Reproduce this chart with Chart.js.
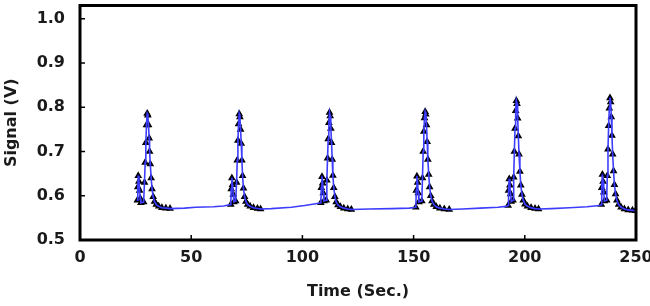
<!DOCTYPE html>
<html lang="en">
<head>
    <meta charset="UTF-8">
    <title>Signal vs Time</title>
    <script src="https://cdn.jsdelivr.net/npm/chart.js"></script>
    <style>
        body {
            margin: 0;
            padding: 0;
            background: #fff;
        }
        .chart-box {
            width: 650px;
            height: 306px;
        }
    </style>
</head>
<body>
    <div class="chart-box">
        <canvas id="signalChart" width="650" height="306"></canvas>
    </div>
    <script>
        // tick labels
        const xTicks = [0, 50, 100, 150, 200, 250];
        const yTicks = [0.5, 0.6, 0.7, 0.8, 0.9, 1.0];

        // peaks (time in s, signal in V)
        const peak1T = [25.8, 26.0, 26.2, 26.5, 26.8, 27.1, 27.4, 28.6, 29.0, 29.3, 29.6, 29.9, 30.2, 30.5, 30.8, 31.1, 31.3, 31.6, 32.0, 32.4, 32.9, 33.5, 34.3, 35.4, 36.8, 38.6, 40.5];
        const peak1V = [0.590, 0.620, 0.645, 0.632, 0.612, 0.594, 0.584, 0.586, 0.630, 0.675, 0.720, 0.760, 0.786, 0.782, 0.760, 0.730, 0.700, 0.672, 0.640, 0.615, 0.598, 0.587, 0.580, 0.576, 0.573, 0.572, 0.571];
        const peak2T = [67.8, 68.0, 68.3, 68.6, 68.9, 69.2, 70.0, 70.4, 70.7, 71.0, 71.3, 71.6, 71.9, 72.2, 72.5, 72.8, 73.1, 73.5, 74.0, 74.6, 75.4, 76.5, 78.0, 79.8, 81.2];
        const peak2V = [0.580, 0.615, 0.640, 0.625, 0.603, 0.586, 0.588, 0.630, 0.680, 0.725, 0.762, 0.785, 0.778, 0.750, 0.718, 0.680, 0.645, 0.617, 0.598, 0.587, 0.580, 0.576, 0.573, 0.571, 0.570];
        const peak3T = [108.3, 108.5, 108.8, 109.1, 109.4, 109.7, 110.7, 111.0, 111.3, 111.6, 111.9, 112.2, 112.5, 112.8, 113.1, 113.4, 113.7, 114.1, 114.6, 115.2, 116.0, 117.1, 118.6, 120.4, 122.0];
        const peak3V = [0.584, 0.618, 0.643, 0.628, 0.606, 0.588, 0.590, 0.635, 0.685, 0.728, 0.765, 0.788, 0.780, 0.752, 0.720, 0.682, 0.646, 0.618, 0.598, 0.586, 0.579, 0.575, 0.572, 0.570, 0.569];
        const peak4T = [151.0, 151.2, 151.5, 151.8, 152.1, 152.4, 153.7, 154.0, 154.3, 154.6, 154.9, 155.2, 155.5, 155.8, 156.1, 156.4, 156.8, 157.2, 157.7, 158.3, 159.1, 160.2, 161.8, 163.8, 166.0];
        const peak4V = [0.574, 0.612, 0.644, 0.630, 0.606, 0.586, 0.588, 0.640, 0.700, 0.745, 0.776, 0.790, 0.784, 0.760, 0.722, 0.682, 0.648, 0.620, 0.600, 0.588, 0.580, 0.575, 0.572, 0.570, 0.569];
        const peak5T = [192.5, 192.7, 193.0, 193.3, 193.6, 193.9, 194.7, 195.0, 195.3, 195.6, 195.9, 196.2, 196.5, 196.8, 197.1, 197.4, 197.8, 198.2, 198.7, 199.3, 200.1, 201.2, 202.8, 204.6, 206.2];
        const peak5V = [0.578, 0.612, 0.638, 0.624, 0.604, 0.587, 0.590, 0.642, 0.700, 0.752, 0.792, 0.815, 0.808, 0.775, 0.735, 0.694, 0.655, 0.624, 0.603, 0.590, 0.581, 0.576, 0.573, 0.571, 0.570];
        const peak6T = [234.4, 234.6, 234.9, 235.2, 235.5, 235.8, 236.8, 237.1, 237.4, 237.7, 238.0, 238.3, 238.6, 238.9, 239.2, 239.5, 239.9, 240.3, 240.8, 241.4, 242.2, 243.3, 244.8, 246.5, 248.4, 249.8];
        const peak6V = [0.580, 0.618, 0.648, 0.632, 0.608, 0.588, 0.590, 0.645, 0.705, 0.758, 0.798, 0.821, 0.812, 0.778, 0.736, 0.694, 0.656, 0.625, 0.604, 0.590, 0.580, 0.574, 0.570, 0.568, 0.567, 0.566];

        // flat stretches between peaks (no markers)
        const gap1T = [47.0, 52.0, 60.0, 64.5];
        const gap1V = [0.572, 0.574, 0.575, 0.577];
        const gap2T = [86.0, 95.0, 101.0, 106.0];
        const gap2V = [0.571, 0.574, 0.578, 0.582];
        const gap3T = [130.0, 140.0, 148.0];
        const gap3V = [0.570, 0.571, 0.572];
        const gap4T = [172.0, 180.0, 188.0, 191.5];
        const gap4V = [0.570, 0.572, 0.574, 0.576];
        const gap5T = [212.0, 220.0, 228.0, 233.5];
        const gap5V = [0.571, 0.573, 0.575, 0.578];

        const pts = (t, v) => t.map((x, i) => ({ x: x, y: v[i] }));

        const peakPts = [].concat(
            pts(peak1T, peak1V), pts(peak2T, peak2V), pts(peak3T, peak3V),
            pts(peak4T, peak4V), pts(peak5T, peak5V), pts(peak6T, peak6V)
        );
        const tracePts = [].concat(
            pts(peak1T, peak1V), pts(gap1T, gap1V),
            pts(peak2T, peak2V), pts(gap2T, gap2V),
            pts(peak3T, peak3V), pts(gap3T, gap3V),
            pts(peak4T, peak4V), pts(gap4T, gap4V),
            pts(peak5T, peak5V), pts(gap5T, gap5V),
            pts(peak6T, peak6V)
        );

        // frame + inward tick marks
        const framePlugin = {
            id: 'frame',
            afterDraw(chart) {
                const { ctx, chartArea: a, scales } = chart;
                ctx.save();
                ctx.strokeStyle = '#000';
                ctx.lineWidth = 1.5;
                scales.y.ticks.forEach(t => {
                    const y = scales.y.getPixelForValue(t.value);
                    ctx.beginPath();
                    ctx.moveTo(a.left, y);
                    ctx.lineTo(a.left + 5, y);
                    ctx.stroke();
                });
                scales.x.ticks.forEach(t => {
                    const x = scales.x.getPixelForValue(t.value);
                    ctx.beginPath();
                    ctx.moveTo(x, a.bottom);
                    ctx.lineTo(x, a.bottom - 5);
                    ctx.stroke();
                });
                ctx.lineWidth = 3;
                ctx.strokeRect(a.left, a.top, a.right - a.left, a.bottom - a.top);
                ctx.restore();
            }
        };

        const tickFont = { family: "'DejaVu Sans', Verdana, sans-serif", size: 16, weight: 'bold' };

        new Chart(document.getElementById('signalChart'), {
            type: 'scatter',
            data: {
                datasets: [
                    {
                        data: tracePts,
                        showLine: true,
                        borderColor: '#3d3dff',
                        borderWidth: 1.6,
                        pointRadius: 0,
                        tension: 0
                    },
                    {
                        data: peakPts,
                        showLine: false,
                        pointStyle: 'triangle',
                        pointRadius: 3,
                        pointBackgroundColor: '#1010c0',
                        pointBorderColor: '#000',
                        pointBorderWidth: 1.5
                    }
                ]
            },
            options: {
                responsive: false,
                animation: false,
                layout: { padding: { top: 3, right: 14, left: 0, bottom: 0 } },
                plugins: {
                    legend: { display: false },
                    tooltip: { enabled: false }
                },
                scales: {
                    x: {
                        type: 'linear',
                        min: 0,
                        max: 250,
                        afterBuildTicks: s => { s.ticks = xTicks.map(v => ({ value: v })); },
                        afterFit: s => {
                            s.height = 66;
                            s.paddingLeft = 0;
                            s.paddingRight = 0;
                        },
                        grid: { display: false, drawTicks: false },
                        border: { display: false },
                        ticks: { font: tickFont, color: '#1a1a1a', padding: 8, maxRotation: 0 },
                        title: {
                            display: true,
                            text: 'Time (Sec.)',
                            font: tickFont,
                            color: '#1a1a1a',
                            padding: { top: 0, bottom: 5 }
                        }
                    },
                    y: {
                        type: 'linear',
                        min: 0.5,
                        max: 1.03,
                        afterBuildTicks: s => { s.ticks = yTicks.map(v => ({ value: v })); },
                        afterFit: s => {
                            s.width = 80;
                            s.paddingTop = 0;
                            s.paddingBottom = 0;
                        },
                        grid: { display: false, drawTicks: false },
                        border: { display: false },
                        ticks: {
                            font: tickFont,
                            color: '#1a1a1a',
                            padding: 15,
                            callback: v => v.toFixed(1)
                        },
                        title: {
                            display: true,
                            text: 'Signal (V)',
                            font: tickFont,
                            color: '#1a1a1a',
                            padding: { top: 2, bottom: 0 }
                        }
                    }
                }
            },
            plugins: [framePlugin]
        });
    </script>
</body>
</html>
